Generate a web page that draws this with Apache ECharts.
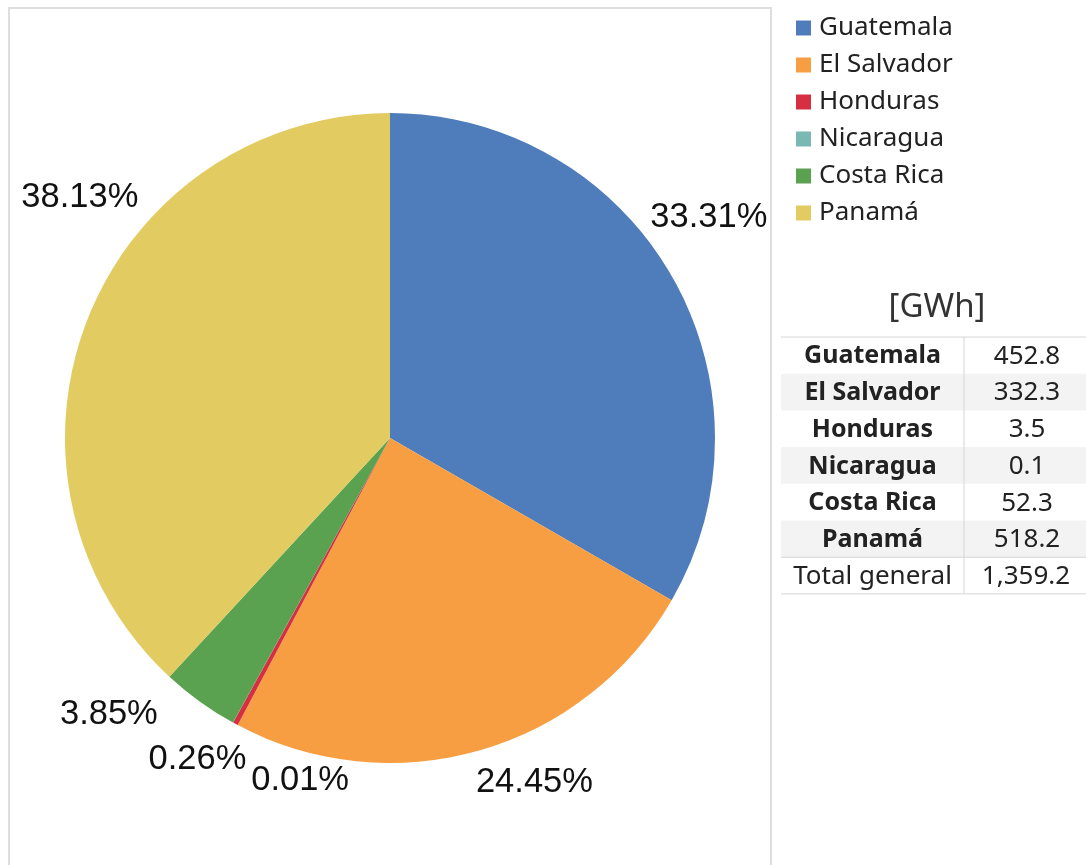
<!DOCTYPE html>
<html>
<head>
    <meta charset="UTF-8">
    <title>ECharts</title>
    <script type="text/javascript" src="https://cdn.jsdelivr.net/npm/echarts@6/dist/echarts.min.js"></script>
    <style>
        html, body { margin: 0; padding: 0; background: #fff; }
        #main { width: 1086px; height: 865px; }
    </style>
</head>
<body>
<div id="main"></div>
<script type="text/javascript">
    // 数据
    var countries = ['Guatemala', 'El Salvador', 'Honduras', 'Nicaragua', 'Costa Rica', 'Panamá'];
    var energy = [452.8, 332.3, 3.5, 0.1, 52.3, 518.2];
    var colors = ['#4f7cba', '#f79e42', '#d62f41', '#7ab9b3', '#5aa150', '#e2cc62'];
    var tableTitle = '[GWh]';
    var totalLabel = 'Total general';

    // 标签位置微调 (相对于默认外部标签)
    var labelNudge = [[-21, -58], [-4, 32], [11, 36], [116, 58], [-42, 13], [51, -122]];

    var total = 0;
    for (var i = 0; i < energy.length; i++) total += energy[i];

    function fmt1(v) {
        var s = v.toFixed(1).split('.');
        return s[0].replace(/\B(?=(\d{3})+(?!\d))/g, ',') + '.' + s[1];
    }

    var pieData = [];
    for (var i = 0; i < countries.length; i++) {
        pieData.push({ name: countries[i], value: energy[i], itemStyle: { color: colors[i] } });
    }

    // 右侧表格
    var graphics = [
        {
            type: 'polyline', silent: true,
            shape: { points: [[9, 880], [9, 8], [771, 8], [771, 880]] },
            style: { stroke: '#dedede', lineWidth: 2, fill: null }
        },
        {
            type: 'text', x: 937, y: 308,
            style: { text: tableTitle, font: '33px "Noto Sans"', fill: '#333', align: 'center', verticalAlign: 'middle' }
        }
    ];
    var tTop = 337, rowH = 36.7, tLeft = 781, tMid = 964, tRight = 1086;
    for (var i = 0; i < countries.length; i++) {
        var y0 = tTop + i * rowH;
        if (i % 2 === 1) {
            graphics.push({ type: 'rect', silent: true, shape: { x: tLeft, y: y0, width: tRight - tLeft, height: rowH }, style: { fill: '#f3f3f3' } });
        }
        graphics.push({ type: 'text', x: (tLeft + tMid) / 2, y: y0 + rowH / 2 + 1,
            style: { text: countries[i], font: 'bold 25px "Noto Sans"', fill: '#222', align: 'center', verticalAlign: 'middle' } });
        graphics.push({ type: 'text', x: (tMid + tRight) / 2 + 2, y: y0 + rowH / 2 + 1,
            style: { text: fmt1(energy[i]), font: '26px "Noto Sans"', fill: '#222', align: 'center', verticalAlign: 'middle' } });
    }
    var yTot = tTop + countries.length * rowH;
    graphics.push({ type: 'text', x: (tLeft + tMid) / 2, y: yTot + rowH / 2 + 1,
        style: { text: totalLabel, font: '26px "Noto Sans"', fill: '#222', align: 'center', verticalAlign: 'middle' } });
    graphics.push({ type: 'text', x: (tMid + tRight) / 2 + 1, y: yTot + rowH / 2 + 1,
        style: { text: fmt1(total), font: '26px "Noto Sans"', fill: '#222', align: 'center', verticalAlign: 'middle' } });
    var lineStyle = { stroke: '#d6d6d6', lineWidth: 1 };
    graphics.push({ type: 'line', silent: true, shape: { x1: tLeft, y1: tTop, x2: tRight, y2: tTop }, style: lineStyle });
    graphics.push({ type: 'line', silent: true, shape: { x1: tLeft, y1: yTot, x2: tRight, y2: yTot }, style: lineStyle });
    graphics.push({ type: 'line', silent: true, shape: { x1: tLeft, y1: yTot + rowH, x2: tRight, y2: yTot + rowH }, style: lineStyle });
    graphics.push({ type: 'line', silent: true, shape: { x1: tMid, y1: tTop, x2: tMid, y2: yTot + rowH }, style: lineStyle });

    var myChart = echarts.init(document.getElementById('main'));
    var option = {
        animation: false,
        color: colors,
        legend: {
            orient: 'vertical',
            left: 791,
            top: 8,
            itemWidth: 15,
            itemHeight: 15,
            itemGap: 7,
            icon: 'rect',
            data: countries,
            textStyle: { fontFamily: 'Noto Sans', fontSize: 26, color: '#222', lineHeight: 30, padding: [0, 0, 0, 3] }
        },
        graphic: graphics,
        series: [
            {
                type: 'pie',
                center: [390, 438],
                radius: 325,
                startAngle: 90,
                clockwise: true,
                avoidLabelOverlap: false,
                itemStyle: { borderWidth: 0 },
                label: {
                    show: true,
                    position: 'outside',
                    distanceToLabelLine: 0,
                    fontFamily: 'Liberation Sans',
                    fontSize: 34.5,
                    color: '#111',
                    formatter: function (p) {
                        return (p.value / total * 100).toFixed(2) + '%';
                    }
                },
                labelLine: { show: false, length: 0, length2: 0 },
                labelLayout: function (p) {
                    var n = labelNudge[p.dataIndex];
                    return { dx: n[0], dy: n[1] };
                },
                emphasis: { disabled: true },
                data: pieData
            }
        ]
    };
    myChart.setOption(option);
</script>
</body>
</html>
